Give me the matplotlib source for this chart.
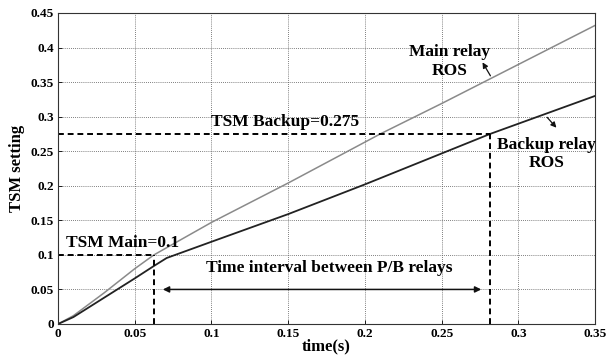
import matplotlib
matplotlib.use("Agg")
import matplotlib.pyplot as plt
from matplotlib.ticker import FuncFormatter, MultipleLocator

plt.rcParams['font.family'] = ['Liberation Serif', 'DejaVu Serif']
plt.rcParams['font.weight'] = 'bold'

main_t = [0, 0.01, 0.03, 0.05, 0.0625, 0.1, 0.15, 0.21, 0.25, 0.35]
main_v = [0, 0.012, 0.045, 0.080, 0.100, 0.147, 0.204, 0.275, 0.319, 0.432]

backup_t = [0, 0.01, 0.03, 0.05, 0.0625, 0.0708, 0.1, 0.15, 0.2, 0.2816, 0.35]
backup_v = [0, 0.010, 0.038, 0.066, 0.084, 0.0955, 0.119, 0.159, 0.202, 0.275, 0.330]

tsm_main = 0.1
t_main = 0.0625
tsm_backup = 0.275
t_backup = 0.2816

fig = plt.figure(figsize=(6.11, 3.6), dpi=100)
ax = fig.add_axes([0.095, 0.1, 0.879, 0.864])

ax.plot(main_t, main_v, color='#8a8a8a', lw=1.1)
ax.plot(backup_t, backup_v, color='#222222', lw=1.3)

# dashed guide lines
ax.plot([0, t_main], [tsm_main, tsm_main], 'k--', lw=1.4, dashes=(3, 2))
ax.plot([t_main, t_main], [0, tsm_main], 'k--', lw=1.4, dashes=(3, 2))
ax.plot([0, t_backup], [tsm_backup, tsm_backup], 'k--', lw=1.4, dashes=(3, 2))
ax.plot([t_backup, t_backup], [0, tsm_backup], 'k--', lw=1.4, dashes=(3, 2))

ax.set_xlim(0, 0.35)
ax.set_ylim(0, 0.45)
ax.xaxis.set_major_locator(MultipleLocator(0.05))
ax.yaxis.set_major_locator(MultipleLocator(0.05))
fmt = FuncFormatter(lambda v, p: '%g' % round(v, 3))
ax.xaxis.set_major_formatter(fmt)
ax.yaxis.set_major_formatter(fmt)
ax.tick_params(direction='in', labelsize=9.5, length=3, width=0.6, pad=3)
for lab in ax.get_xticklabels() + ax.get_yticklabels():
    lab.set_fontweight('bold')
ax.grid(True, linestyle=(0, (1, 1.5)), color='#555555', lw=0.6)
for s in ax.spines.values():
    s.set_linewidth(0.8)
    s.set_color('#333333')

ax.set_xlabel('time(s)', fontsize=12, fontweight='bold', labelpad=-1)
ax.set_ylabel('TSM setting', fontsize=12, fontweight='bold', labelpad=4)

ax.text(0.1, 0.281, 'TSM Backup=0.275', fontsize=12.5, fontweight='bold', ha='left', va='bottom')
ax.text(0.0055, 0.106, 'TSM Main=0.1', fontsize=12.5, fontweight='bold', ha='left', va='bottom')
ax.text(0.177, 0.0806, 'Time interval between P/B relays', fontsize=12.5, fontweight='bold', ha='center', va='center')
ax.text(0.255, 0.38, 'Main relay\nROS', fontsize=12.5, fontweight='bold', ha='center', va='center', linespacing=1.2)
ax.text(0.3186, 0.246, 'Backup relay\nROS', fontsize=12.5, fontweight='bold', ha='center', va='center', linespacing=1.2)

ax.annotate('', xy=(t_main + 0.004, 0.05), xytext=(t_backup - 0.004, 0.05),
            arrowprops=dict(arrowstyle='<|-|>', color='#111111', lw=1.1, mutation_scale=9))
ax.annotate('', xy=(0.2757, 0.382), xytext=(0.2827, 0.3556),
            arrowprops=dict(arrowstyle='-|>', color='#111111', lw=0.9, mutation_scale=8))
ax.annotate('', xy=(0.326, 0.281), xytext=(0.3175, 0.302),
            arrowprops=dict(arrowstyle='-|>', color='#111111', lw=0.9, mutation_scale=8))

fig.savefig('out.png', dpi=100)
